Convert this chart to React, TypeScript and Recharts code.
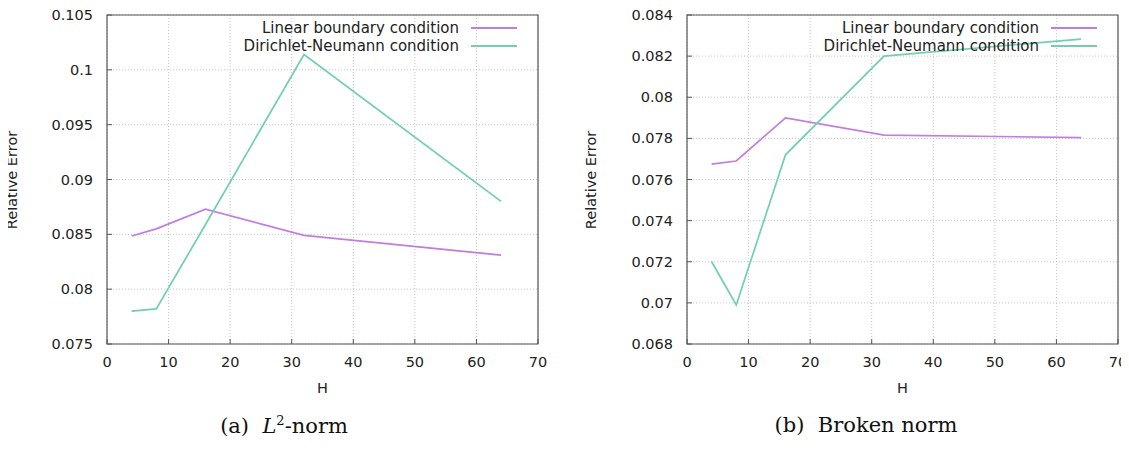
import React from 'react';
import { LineChart, Line, XAxis, YAxis, CartesianGrid, ReferenceArea } from 'recharts';

// mesh sizes used in both studies
const H_VALUES = [4, 8, 16, 32, 64];

// (a) L2-norm relative errors
const L2_LINEAR = [0.08485, 0.0855, 0.0873, 0.0849, 0.0831];
const L2_DIRICHLET = [0.078, 0.0782, 0.0859, 0.1014, 0.088];

// (b) broken-norm relative errors
const BROKEN_LINEAR = [0.07675, 0.0769, 0.079, 0.07816, 0.07804];
const BROKEN_DIRICHLET = [0.072, 0.0699, 0.0772, 0.082, 0.08283];

const X_TICKS = [0, 10, 20, 30, 40, 50, 60, 70];
const L2_Y_TICKS = [0.075, 0.08, 0.085, 0.09, 0.095, 0.1, 0.105];
const BROKEN_Y_TICKS = [0.068, 0.07, 0.072, 0.074, 0.076, 0.078, 0.08, 0.082, 0.084];

const SERIES_NAMES = ['Linear boundary condition', 'Dirichlet-Neumann condition'];
const COLORS = ['#c07ee0', '#6fcfae'];

const FONT = '"DejaVu Sans", Verdana, sans-serif';
const FONT_SIZE = 14.5;
const Y_TICK_GAP = 14;
const X_TICK_GAP = 13;

const buildRows = (linear: number[], dirichlet: number[]) =>
  H_VALUES.map((h, i) => ({ h, linear: linear[i], dirichlet: dirichlet[i] }));

const fmt = (v: number) => String(Number(v.toFixed(4)));

const H = 450;
const TOP = 15;
const BOTTOM = 106; // 450 - plot bottom (344)
const X_AXIS_H = 30;

// tick text plus a short inward gnuplot-style tick mark
const YTick = (props: any) => {
  const { x, y, payload } = props;
  const axisX = x + Y_TICK_GAP;
  return (
    <g>
      <text x={x} y={y} dy="0.35em" textAnchor="end" fontSize={FONT_SIZE} fill="#222" fontFamily={FONT}>
        {fmt(payload.value)}
      </text>
      <line x1={axisX} x2={axisX + 5} y1={y} y2={y} stroke="#555" />
    </g>
  );
};

const XTick = (props: any) => {
  const { x, y, payload } = props;
  const axisY = y - X_TICK_GAP;
  return (
    <g>
      <text x={x} y={y} dy="0.71em" textAnchor="middle" fontSize={FONT_SIZE} fill="#222" fontFamily={FONT}>
        {payload.value}
      </text>
      <line x1={x} x2={x} y1={axisY} y2={axisY - 5} stroke="#555" />
    </g>
  );
};

const KeyBox = ({ right }: { right: number }) => (
  <div style={{ position: 'absolute', top: 19, right, fontFamily: FONT, fontSize: 15, color: '#222' }}>
    {SERIES_NAMES.map((name, i) => (
      <div key={name} style={{ display: 'flex', alignItems: 'center', justifyContent: 'flex-end', height: 18 }}>
        <span style={{ marginRight: 12, whiteSpace: 'nowrap' }}>{name}</span>
        <svg width={46} height={4} style={{ display: 'block' }}>
          <line x1={0} x2={46} y1={2} y2={2} stroke={COLORS[i]} strokeWidth={1.8} />
        </svg>
      </div>
    ))}
  </div>
);

type PanelProps = {
  left: number;
  width: number;
  yAxisWidth: number;
  marginRight: number;
  yLabelX: number;
  linear: number[];
  dirichlet: number[];
  yTicks: number[];
  captionX: number;
  caption: React.ReactNode;
};

const Panel = (p: PanelProps) => {
  const data = buildRows(p.linear, p.dirichlet);
  const yMin = p.yTicks[0];
  const yMax = p.yTicks[p.yTicks.length - 1];
  const plotLeft = p.yAxisWidth;
  const plotRight = p.width - p.marginRight;
  const plotBottom = H - BOTTOM;
  return (
    <div style={{ position: 'absolute', left: p.left, top: 0, width: p.width, height: H }}>
      <LineChart
        width={p.width}
        height={H}
        data={data}
        style={{ overflow: 'visible' }}
        margin={{ top: TOP, right: p.marginRight, bottom: BOTTOM - X_AXIS_H, left: 0 }}
      >
        <CartesianGrid stroke="#c4c4c4" strokeDasharray="1 2" />
        <XAxis
          dataKey="h"
          type="number"
          domain={[0, 70]}
          ticks={X_TICKS}
          axisLine={false}
          tickLine={false}
          tickSize={0}
          tickMargin={X_TICK_GAP}
          height={X_AXIS_H}
          tick={<XTick />}
          interval={0}
        />
        <YAxis
          type="number"
          domain={[yMin, yMax]}
          ticks={p.yTicks}
          axisLine={false}
          tickLine={false}
          tickSize={0}
          tickMargin={Y_TICK_GAP}
          width={p.yAxisWidth}
          tick={<YTick />}
          interval={0}
        />
        <ReferenceArea x1={0} x2={70} y1={yMin} y2={yMax} fill="none" stroke="#555" strokeWidth={1.2} ifOverflow="visible" />
        <Line
          dataKey="linear"
          name={SERIES_NAMES[0]}
          stroke={COLORS[0]}
          strokeWidth={1.7}
          dot={false}
          type="linear"
          isAnimationActive={false}
        />
        <Line
          dataKey="dirichlet"
          name={SERIES_NAMES[1]}
          stroke={COLORS[1]}
          strokeWidth={1.7}
          dot={false}
          type="linear"
          isAnimationActive={false}
        />
      </LineChart>
      <KeyBox right={p.marginRight + 21} />
      <div
        style={{
          position: 'absolute',
          left: p.yLabelX,
          top: (TOP + plotBottom) / 2,
          transform: 'translate(-50%, -50%) rotate(-90deg)',
          fontFamily: FONT,
          fontSize: FONT_SIZE,
          color: '#222',
          whiteSpace: 'nowrap',
        }}
      >
        Relative Error
      </div>
      <div
        style={{
          position: 'absolute',
          left: (plotLeft + plotRight) / 2,
          top: 388,
          transform: 'translate(-50%, -50%)',
          fontFamily: FONT,
          fontSize: FONT_SIZE,
          color: '#222',
        }}
      >
        H
      </div>
      <div
        style={{
          position: 'absolute',
          left: p.captionX,
          top: 425,
          transform: 'translate(-50%, -50%)',
          whiteSpace: 'nowrap',
          fontFamily: '"DejaVu Serif", "Liberation Serif", serif',
          fontSize: 21,
          color: '#111',
        }}
      >
        {p.caption}
      </div>
    </div>
  );
};

export default function App() {
  return (
    <div style={{ position: 'relative', width: 1129, height: 450, margin: -8, background: '#fff' }}>
      <Panel
        left={0}
        width={565}
        yAxisWidth={107}
        marginRight={27}
        yLabelX={12}
        linear={L2_LINEAR}
        dirichlet={L2_DIRICHLET}
        yTicks={L2_Y_TICKS}
        captionX={284}
        caption={
          <span>
            (a)&nbsp; <i>L</i>
            <sup style={{ fontSize: 13 }}>2</sup>-norm
          </span>
        }
      />
      <Panel
        left={565}
        width={564}
        yAxisWidth={122}
        marginRight={11}
        yLabelX={26}
        linear={BROKEN_LINEAR}
        dirichlet={BROKEN_DIRICHLET}
        yTicks={BROKEN_Y_TICKS}
        captionX={301}
        caption={<span>(b)&nbsp; Broken norm</span>}
      />
    </div>
  );
}
